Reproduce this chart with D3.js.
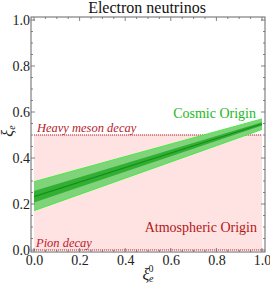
<!DOCTYPE html>
<html>
<head>
<meta charset="utf-8">
<script src="https://cdn.jsdelivr.net/npm/d3@7"></script>
<style>
body { margin: 0; background: #fff; }
svg text { font-family: "Liberation Serif", "Times New Roman", Times, "DejaVu Serif", serif !important; }
</style>
</head>
<body>
<div id="chart"></div>
<script>
// values
let xs = [0, 1]
let central = [0.232, 0.548]
let innerLow = [0.207, 0.541]
let innerHigh = [0.257, 0.555]
let outerLow = [0.171, 0.524]
let outerHigh = [0.297, 0.570]
let heavyMeson = 0.5
let pion = 0.0
let tickValues = [0, 0.2, 0.4, 0.6, 0.8, 1.0]
let minorValues = d3.range(0, 1.0001, 0.05)

let width = 270
let height = 284
let serif = "Liberation Serif"

let svg = d3.select("#chart")
    .append("svg")
    .attr("width", width)
    .attr("height", height)
    .attr("font-family", serif)

// frame slightly larger than data range, like Mathematica's padding
let xScale = d3.scaleLinear().domain([0, 1]).range([34, 262])
let yScale = d3.scaleLinear().domain([0, 1]).range([250, 20])

let frameLeft = 31, frameRight = 265, frameTop = 17, frameBottom = 252

// atmospheric region
svg.append("rect")
    .attr("x", xScale(0))
    .attr("y", yScale(heavyMeson))
    .attr("width", xScale(1) - xScale(0))
    .attr("height", yScale(pion) - yScale(heavyMeson))
    .attr("fill", "#ffe2e2")

// dotted boundary lines
;[heavyMeson, pion].forEach(function(v){
    svg.append("line")
        .attr("x1", xScale(0)).attr("x2", xScale(1))
        .attr("y1", yScale(v)).attr("y2", yScale(v))
        .attr("stroke", "#b8202a")
        .attr("stroke-width", 1)
        .attr("stroke-dasharray", "1.2,0.8")
})

function band(lo, hi){
    return d3.area()
        .x(function(d, i){ return xScale(xs[i]) })
        .y0(function(d, i){ return yScale(lo[i]) })
        .y1(function(d, i){ return yScale(hi[i]) })(xs)
}
let line = d3.line()
    .x(function(d, i){ return xScale(xs[i]) })
    .y(function(d){ return yScale(d) })

svg.append("path").attr("d", band(outerLow, outerHigh))
    .attr("fill", "#80d27b")
svg.append("path").attr("d", line(outerLow)).attr("fill", "none")
    .attr("stroke", "#44ee44").attr("stroke-width", 1)
svg.append("path").attr("d", line(outerHigh)).attr("fill", "none")
    .attr("stroke", "#44ee44").attr("stroke-width", 1)
svg.append("path").attr("d", band(innerLow, innerHigh))
    .attr("fill", "#33b033")
svg.append("path").attr("d", line(central)).attr("fill", "none")
    .attr("stroke", "#12901a").attr("stroke-width", 1.2)

// frame
svg.append("rect")
    .attr("x", frameLeft).attr("y", frameTop)
    .attr("width", frameRight - frameLeft)
    .attr("height", frameBottom - frameTop)
    .attr("fill", "none")
    .attr("stroke", "#666")
    .attr("stroke-width", 1)

// ticks pointing inward
let ticks = svg.append("g").attr("stroke", "#666").attr("stroke-width", 0.8)
minorValues.forEach(function(v){
    let major = tickValues.some(function(t){ return Math.abs(t - v) < 1e-6 })
    let len = major ? 4 : 2
    ticks.append("line").attr("x1", xScale(v)).attr("x2", xScale(v))
        .attr("y1", frameBottom).attr("y2", frameBottom - len)
    ticks.append("line").attr("x1", xScale(v)).attr("x2", xScale(v))
        .attr("y1", frameTop).attr("y2", frameTop + len)
    ticks.append("line").attr("y1", yScale(v)).attr("y2", yScale(v))
        .attr("x1", frameLeft).attr("x2", frameLeft + len)
    ticks.append("line").attr("y1", yScale(v)).attr("y2", yScale(v))
        .attr("x1", frameRight).attr("x2", frameRight - len)
})

// tick labels
let xAxis = d3.axisBottom(xScale).tickValues(tickValues).tickFormat(d3.format(".1f")).tickSize(0).tickPadding(3)
let yAxis = d3.axisLeft(yScale).tickValues(tickValues).tickFormat(d3.format(".1f")).tickSize(0).tickPadding(1)

let gx = svg.append("g").attr("transform", `translate(0, ${frameBottom})`).call(xAxis)
let gy = svg.append("g").attr("transform", `translate(${frameLeft}, 0)`).call(yAxis)
;[gx, gy].forEach(function(g){
    g.attr("font-family", serif).attr("font-size", 14)
    g.select(".domain").remove()
    g.selectAll("text")
        .attr("fill", "#222")
})

// title
svg.append("text")
    .attr("x", 147).attr("y", 13)
    .attr("text-anchor", "middle")
    .attr("font-size", 16)
    .attr("fill", "#111")
    .text("Electron neutrinos")

// axis labels
let xl = svg.append("text")
    .attr("x", 148).attr("y", 280)
    .attr("text-anchor", "middle")
    .attr("font-size", 16)
    .attr("font-style", "italic")
    .attr("fill", "#222")
xl.append("tspan").text("ξ")
xl.append("tspan").attr("font-size", 10).attr("dy", 2).attr("dx", -0.5).text("e")
xl.append("tspan").attr("font-size", 10).attr("font-style", "normal").attr("dy", -10).attr("dx", -5).text("0")

let yl = svg.append("text")
    .attr("transform", "translate(13, 131) rotate(-90)")
    .attr("text-anchor", "middle")
    .attr("font-size", 16)
    .attr("font-style", "italic")
    .attr("fill", "#222")
yl.append("tspan").text("ξ")
yl.append("tspan").attr("font-size", 10).attr("dy", 2).text("e")

// region labels
svg.append("text")
    .attr("x", 37).attr("y", 132)
    .attr("font-size", 12.5).attr("font-style", "italic")
    .attr("fill", "#b8202a")
    .text("Heavy meson decay")
svg.append("text")
    .attr("x", 36).attr("y", 247)
    .attr("font-size", 12.5).attr("font-style", "italic")
    .attr("fill", "#b8202a")
    .text("Pion decay")
svg.append("text")
    .attr("x", 256).attr("y", 118)
    .attr("text-anchor", "end")
    .attr("font-size", 14)
    .attr("fill", "#22b822")
    .text("Cosmic Origin")
svg.append("text")
    .attr("x", 257).attr("y", 232)
    .attr("text-anchor", "end")
    .attr("font-size", 14)
    .attr("fill", "#b01818")
    .text("Atmospheric Origin")
</script>
</body>
</html>
